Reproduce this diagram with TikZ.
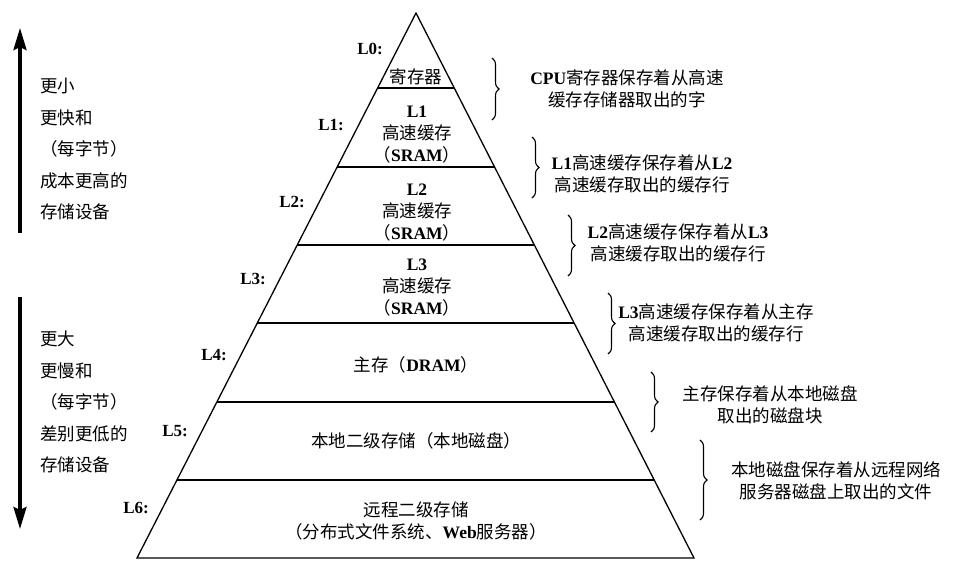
\documentclass[tikz,border=0pt]{standalone}
\usepackage{fontspec}
\setmainfont{Liberation Serif}
\newfontfamily\cjk{Noto Sans CJK SC}[BoldFont={Noto Sans CJK SC}]
\usetikzlibrary{arrows.meta,calc,decorations.pathreplacing,positioning}
\newcommand{\zh}[1]{{\cjk #1}}
\tikzstyle{tier}  =[line width=1.3pt, line join=miter]
\tikzstyle{txt}   =[font=\bfseries\fontsize{17.5}{22}\selectfont,
                    align=center, inner sep=0pt]
\tikzstyle{lvl}   =[font=\bfseries\fontsize{17}{18}\selectfont,
                    anchor=east, inner sep=0pt]
\tikzstyle{side}  =[font=\fontsize{17.5}{31.5}\selectfont,
                    align=left, anchor=west, inner sep=0pt]
\tikzstyle{cache} =[decorate, decoration={brace, amplitude=7pt},
                    line width=1.1pt]
\tikzstyle{trend} =[line width=3.5pt,
                    -{Stealth[length=22pt, width=13pt, inset=3pt]}]
\begin{document}
\begin{tikzpicture}[x=1pt, y=-1pt]
    \useasboundingbox (0,0) rectangle (962,562);
    \coordinate (apex) at (416,13);
    \coordinate (bl) at (137,558);
    \coordinate (br) at (694,558);
    \draw[tier] (apex) -- (bl) -- (br) -- cycle;
    \foreach \y in {88,167,245,323,402,480}
        \draw[tier] ($(apex)!{(\y-13)/545}!(bl)$) -- ($(apex)!{(\y-13)/545}!(br)$);

    \foreach \i in {0,...,6}
        \node[lvl] (lab\i) at ({383-39*\i},{49+76.5*\i}) {L\i:};

    \node[txt] (reg)    at (416,77)  {\zh{寄存器}};
    \node[txt] (cl1)    at (417,135) {L1\\\zh{高速缓存}\\\zh{（}SRAM\zh{）}};
    \node[txt] (cl2)    at (417,213) {L2\\\zh{高速缓存}\\\zh{（}SRAM\zh{）}};
    \node[txt] (cl3)    at (417,288) {L3\\\zh{高速缓存}\\\zh{（}SRAM\zh{）}};
    \node[txt] (dram)   at (416,365) {\zh{主存（}DRAM\zh{）}};
    \node[txt] (disk)   at (416,441) {\zh{本地二级存储（本地磁盘）}};
    \node[txt] (remote) at (416,521) {\zh{远程二级存储}\\\zh{（分布式文件系统、}Web\zh{服务器）}};

    \foreach \x/\t/\b in {492/58/120, 532/137/198, 568/215/276,
                          608/293/354, 651/372/432, 700/440/520}
        \draw[cache] (\x,\t) -- (\x,\b);

    \node[txt] (d0) at (627,89)  {CPU\zh{寄存器保存着从高速}\\\zh{缓存存储器取出的字}};
    \node[txt] (d1) at (642,174) {L1\zh{高速缓存保存着从}L2\\\zh{高速缓存取出的缓存行}};
    \node[txt] (d2) at (678,243) {L2\zh{高速缓存保存着从}L3\\\zh{高速缓存取出的缓存行}};
    \node[txt] (d3) at (716,323) {L3\zh{高速缓存保存着从主存}\\\zh{高速缓存取出的缓存行}};
    \node[txt] (d4) at (770,405) {\zh{主存保存着从本地磁盘}\\\zh{取出的磁盘块}};
    \node[txt] (d5) at (836,481) {\zh{本地磁盘保存着从远程网络}\\\zh{服务器磁盘上取出的文件}};

    % trends along the hierarchy
    \coordinate (upS) at (20,233);
    \coordinate (upE) at (20,28);
    \coordinate (dnS) at (20,297);
    \coordinate (dnE) at (20,529);
    \draw[trend] (upS) -- (upE);
    \draw[trend] (dnS) -- (dnE);
    \node[side] (fast) at (40,149) {\zh{更小}\\\zh{更快和}\\\zh{（每字节）}\\\zh{成本更高的}\\\zh{存储设备}};
    \node[side] (slow) at (40,402) {\zh{更大}\\\zh{更慢和}\\\zh{（每字节）}\\\zh{差别更低的}\\\zh{存储设备}};
\end{tikzpicture}
\end{document}
